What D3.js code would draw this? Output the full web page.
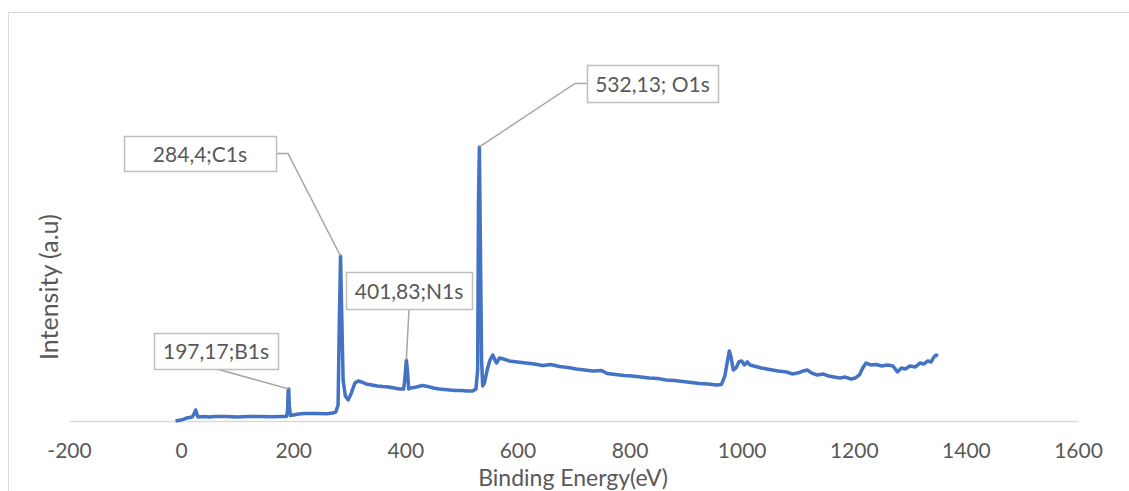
<!DOCTYPE html>
<html>
<head>
<meta charset="utf-8">
<script src="https://d3js.org/d3.v7.min.js"></script>
<style>
  body { margin: 0; background: #fff; }
  text { font-family: Lato, "Open Sans", sans-serif; fill: #595959; }
</style>
</head>
<body>
<svg id="chart" width="1129" height="491"></svg>

<script>
    // survey spectrum (eV, arbitrary intensity)
    const energy = [
        -10, -5, 0, 5, 10, 15, 20, 24, 26, 28, 30, 40, 50, 60, 80, 100, 120, 140, 160, 180,
        188, 190, 191, 192, 193, 195, 200, 210, 220, 240, 260, 270, 276, 280, 282, 284.4, 286, 289,
        293, 298, 303, 310, 316, 322, 330, 340, 350, 360, 370, 380, 390, 397, 399, 401.8, 404, 406,
        410, 420, 430, 440, 450, 460, 470, 480, 490, 500, 510, 520, 526, 529, 530.5, 532.1, 534, 536,
        538, 541, 546, 551, 556, 560, 563, 568, 575, 585, 600, 615, 630, 645, 660, 675, 690, 705,
        720, 735, 750, 760, 775, 790, 805, 820, 835, 850, 865, 880, 895, 910, 925, 940, 955, 964,
        970, 975, 978, 981, 985, 990, 995, 1000, 1005, 1010, 1015, 1025, 1035, 1045, 1055, 1065,
        1080, 1090, 1100, 1110, 1117, 1125, 1135, 1145, 1155, 1165, 1175, 1185, 1195, 1203, 1210,
        1216, 1222, 1230, 1240, 1250, 1260, 1270, 1278, 1285, 1292, 1300, 1310, 1318, 1325, 1332,
        1338, 1343, 1347, 1350
    ];
    const intensity = [
        0, 0.4, 0.8, 1.5, 2.3, 2.7, 3.1, 6.2, 8.5, 5.4, 3.1, 3.5, 3.1, 3.5, 3.5, 3.1, 3.5, 3.5, 3.3, 3.5,
        3.5, 8.5, 23.8, 24.6, 12, 4.2, 4.6, 5.4, 5.8, 5.8, 5.6, 6.2, 6.9, 12.3, 70, 126.9, 93, 31.5,
        19.2, 16.2, 20.8, 29.2, 30.8, 30, 28.5, 27.7, 26.9, 26.5, 26.2, 25.4, 24.6, 24.6, 31.5, 46.9, 37.7, 24.6,
        25.4, 26.2, 27.3, 26.5, 25.4, 24.6, 24.2, 23.8, 23.5, 23.5, 23.1, 23.1, 24.6, 39.2, 170, 210.8, 131.5, 47,
        27, 29.2, 39.2, 46.9, 50.8, 46.9, 44.6, 48.5, 47.7, 46.2, 45.4, 44.6, 43.8, 42.7, 43.5, 41.9, 41.2, 40,
        39.2, 38.5, 38.8, 36.5, 35.8, 35, 34.6, 33.8, 33.1, 32.7, 31.5, 31.2, 30.4, 29.6, 28.8, 28.5, 27.7, 28.1,
        34.6, 46.9, 53.8, 49.2, 39.2, 40.8, 45.4, 46.2, 43.1, 45.4, 43.1, 41.9, 40.8, 40, 39.2, 38.5,
        37.7, 36.2, 36.9, 38.5, 39.2, 36.9, 35.4, 36.2, 34.6, 33.8, 33.1, 33.8, 32.3, 33.1, 35.4,
        40.8, 44.6, 43.1, 43.5, 42.3, 43.1, 42.3, 37.7, 40.8, 40, 42.3, 41.5, 44.6, 43.8, 46.2,
        45.4, 49.2, 50.8, 50
    ];
    const xTicks = [-200, 0, 200, 400, 600, 800, 1000, 1200, 1400, 1600];

    // peak callouts
    const peakLabels = ["197,17;B1s", "284,4;C1s", "401,83;N1s", "532,13; O1s"];
    const peakEnergy = [192, 284.4, 401.8, 532.1];
    const peakValue = [24.6, 126.9, 46.9, 210.8];

    const svg = d3.select("#chart");

    // outer chart frame
    svg.append("rect")
        .attr("x", 8.5).attr("y", 12.5)
        .attr("width", 1300).attr("height", 600)
        .attr("fill", "none").attr("stroke", "#d9d9d9");

    const x = d3.scaleLinear().domain([-200, 1600]).range([69, 1078]);
    const y = d3.scaleLinear().domain([0, 300]).range([421, 31]);

    // x axis: baseline + numbers only
    const xAxis = d3.axisBottom(x).tickValues(xTicks).tickSize(0)
        .tickFormat(d => String(d));
    const ax = svg.append("g").attr("transform", "translate(0,421)").call(xAxis);
    ax.select(".domain").attr("stroke", "#d9d9d9").attr("stroke-width", 1.5);
    ax.selectAll("text")
        .attr("y", 37).attr("dy", 0)
        .style("font-size", "21px").attr("fill", "#595959");

    svg.append("text")
        .attr("x", 573).attr("y", 486)
        .attr("text-anchor", "middle")
        .style("font-size", "23px")
        .text("Binding Energy(eV)");

    svg.append("text")
        .attr("transform", "translate(58,287) rotate(-90)")
        .attr("text-anchor", "middle")
        .style("font-size", "25px")
        .text("Intensity (a.u)");

    // spectrum
    const pts = energy.map((e, i) => [e, intensity[i]]);
    const line = d3.line().x(d => x(d[0])).y(d => y(d[1]));
    svg.append("path")
        .datum(pts)
        .attr("d", line)
        .attr("fill", "none")
        .attr("stroke", "#4472c4")
        .attr("stroke-width", 3.5)
        .attr("stroke-linejoin", "round");

    // callout box layout: [left, top, width, height], leader style
    const boxes = [
        {box: [154, 333, 124, 36], from: "bottom"},
        {box: [124, 136, 152, 35], from: "right"},
        {box: [346, 272, 126, 37], from: "bottom"},
        {box: [587, 65, 131, 37], from: "left"}
    ];

    const callouts = svg.append("g");
    peakLabels.forEach((lab, i) => {
        const [bx, by, bw, bh] = boxes[i].box;
        const px = x(peakEnergy[i]), py = y(peakValue[i]);
        let d;
        if (boxes[i].from === "right") {
            d = `M${bx + bw},${by + bh / 2}h12L${px},${py}`;
        } else if (boxes[i].from === "left") {
            d = `M${bx},${by + bh / 2}h-12L${px},${py}`;
        } else {
            const sx = i === 0 ? bx + 63 : bx + bw / 2;
            d = `M${sx},${by + bh}L${px},${py}`;
        }
        callouts.append("path").attr("d", d)
            .attr("fill", "none").attr("stroke", "#a6a6a6").attr("stroke-width", 1.5);
        callouts.append("rect")
            .attr("x", bx + 0.5).attr("y", by + 0.5)
            .attr("width", bw).attr("height", bh)
            .attr("fill", "#fff").attr("stroke", "#bfbfbf").attr("stroke-width", 1.5);
        callouts.append("text")
            .attr("x", bx + bw / 2).attr("y", by + bh / 2 + 8)
            .attr("text-anchor", "middle")
            .style("font-size", "21px")
            .text(lab);
    });
</script>
</body>
</html>
